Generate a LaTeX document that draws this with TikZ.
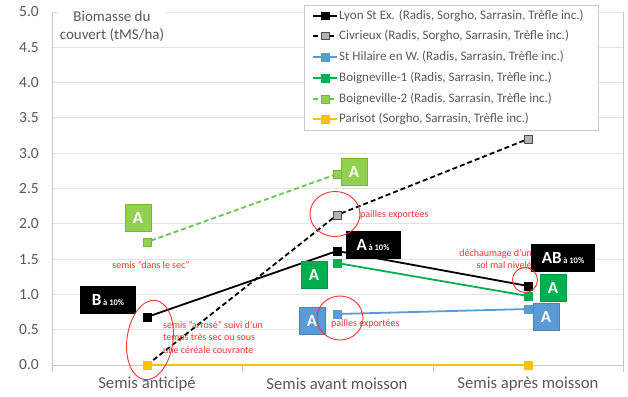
\documentclass[tikz,border=0pt]{standalone}
\usepackage{fontspec}
\setmainfont{Carlito}
\usetikzlibrary{shapes.geometric}
\definecolor{cblue}{HTML}{5B9BD5}
\definecolor{cgreen}{HTML}{00B050}
\definecolor{clight}{HTML}{92D050}
\definecolor{cyellow}{HTML}{FFC000}
\definecolor{cgrid}{HTML}{E3E3E3}
\definecolor{ctext}{HTML}{595959}
\definecolor{cred}{HTML}{F43434}
\tikzset{
  gridline/.style={draw=cgrid, line width=0.9pt},
  axline/.style={draw=gray!45, line width=0.9pt},
  ylab/.style={anchor=east, text=ctext, font=\fontsize{15.5}{15.5}\selectfont, inner sep=0},
  xlab/.style={text=ctext, font=\fontsize{16.7}{16.7}\selectfont, inner sep=0},
  mk/.style={rectangle, minimum size=7.5pt, inner sep=0, line width=0.5pt},
  mblack/.style={mk, fill=black, draw=black},
  mgray/.style={mk, fill=gray!60, draw=black!70},
  mblue/.style={mk, fill=cblue, draw=cblue},
  mgreen/.style={mk, fill=cgreen, draw=cgreen},
  mlight/.style={mk, fill=clight, draw=clight!85!black},
  myellow/.style={mk, fill=cyellow, draw=cyellow},
  sline/.style={line width=1.8pt},
  dline/.style={line width=1.8pt, dash pattern=on 5pt off 3pt},
  letterbox/.style={rectangle, minimum width=26pt, minimum height=27pt, inner sep=0, text=white, font=\bfseries\fontsize{17}{17}\selectfont, line width=0.6pt},
  blackbox/.style={rectangle, fill=black, draw=black, minimum height=27pt, inner sep=0, text=white, font=\bfseries},
  redtxt/.style={text=cred, font=\fontsize{10}{12.5}\selectfont, inner sep=0},
  redell/.style={ellipse, draw=cred, line width=0.9pt, inner sep=0},
  legtxt/.style={anchor=west, text=ctext, font=\fontsize{13}{13}\selectfont, inner sep=0},
}
\newcommand{\biglet}[1]{{\fontsize{17}{17}\selectfont #1}}
\newcommand{\smalltag}{{\fontsize{8.5}{8.5}\selectfont à 10\%}}
\begin{document}
\begin{tikzpicture}[x=1pt, y=-1pt]
\useasboundingbox (0,0) rectangle (628,396);
\fill[white] (0,0) rectangle (628,396);
% grid
\foreach \v in {0.5,1,...,5} {
  \draw[gridline] (52,{365-70.6*\v}) -- (623,{365-70.6*\v});
}
\draw[axline] (52,12) -- (52,365);
\draw[axline] (623,12) -- (623,365);
\draw[axline] (52,365) -- (623,365);
\foreach \x in {52,242,433,623} { \draw[axline] (\x,365) -- (\x,372); }
% y labels
\foreach \v/\t in {0/0.0,0.5/0.5,1/1.0,1.5/1.5,2/2.0,2.5/2.5,3/3.0,3.5/3.5,4/4.0,4.5/4.5,5/5.0} {
  \node[ylab] at (39,{365-70.6*\v}) {\t};
}
% x labels
\node[xlab] (xa) at (147,384) {Semis anticipé};
\node[xlab] (xb) at (337,384) {Semis avant moisson};
\node[xlab] (xc) at (528,384) {Semis après moisson};
% axis title
\node[fill=white, text=ctext, align=center, font=\fontsize{15}{18}\selectfont, inner sep=2pt] (title) at (112,26) {Biomasse du\\couvert (tMS/ha)};

% data markers
\node[myellow] (p1) at (147,365) {};
\coordinate (pmid) at (337,365);
\node[myellow] (p3) at (528,365) {};
\coordinate (c1) at (147,365);
\node[mgray] (c2) at (337,215) {};
\node[mgray] (c3) at (528,139) {};
\node[mblack] (l1) at (147,317) {};
\node[mblack] (l2) at (337,251) {};
\node[mblack] (l3) at (528,286) {};
\node[mblue] (h2) at (337,314) {};
\node[mblue] (h3) at (528,309) {};
\node[mgreen] (g2) at (337,263) {};
\node[mgreen] (g3) at (528,296) {};
\node[mlight] (k1) at (147,242) {};
\node[mlight] (k2) at (337,174) {};
% lines
\draw[sline, cyellow] (p1) -- (pmid) -- (p3);
\draw[dline, black] (c1) -- (c2) -- (c3);
\draw[sline, black] (l1) -- (l2) -- (l3);
\draw[sline, cblue] (h2) -- (h3);
\draw[sline, cgreen] (g2) -- (g3);
\draw[dline, clight!70!cgreen] (k1) -- (k2);
% redraw markers on top
\node[myellow] at (147,365) {};
\node[myellow] at (528,365) {};
\node[mgray] at (337,215) {};
\node[mgray] at (528,139) {};
\node[mblack] at (147,317) {};
\node[mblack] at (337,251) {};
\node[mblack] at (528,286) {};
\node[mblue] at (337,314) {};
\node[mblue] at (528,309) {};
\node[mgreen] at (337,263) {};
\node[mgreen] at (528,296) {};
\node[mlight] at (147,242) {};
\node[mlight] at (337,174) {};

% letter boxes
\node[letterbox, fill=clight, draw=clight!85!black] (bA1) at (138,218) {A};
\node[letterbox, fill=clight, draw=clight!85!black] (bA2) at (354,172) {A};
\node[letterbox, fill=cgreen, draw=cgreen!85!black] (bG2) at (314,275) {A};
\node[letterbox, fill=cgreen, draw=cgreen!85!black] (bG3) at (553,288) {A};
\node[letterbox, fill=cblue, draw=cblue!85!black] (bH2) at (312,321) {A};
\node[letterbox, fill=cblue, draw=cblue!85!black] (bH3) at (546,317) {A};
\node[blackbox, minimum width=55pt] (bB) at (108,300) {\biglet{B}\,\smalltag};
\node[blackbox, minimum width=54pt] (bLA) at (373,245) {\biglet{A}\,\smalltag};
\node[blackbox, minimum width=63pt] (bAB) at (563,258) {\biglet{AB}\,\smalltag};

% red annotations
\node[redell, minimum width=46pt, minimum height=80pt, rotate=-8] (e1) at (150,340) {};
\node[redell, minimum width=50pt, minimum height=45pt] (e2) at (335,214) {};
\node[redell, minimum width=46pt, minimum height=44pt] (e3) at (340,318) {};
\node[redell, minimum width=25pt, minimum height=25pt] (e4) at (525,280) {};
\node[redtxt] (t1) at (151,265) {semis "dans le sec"};
\node[redtxt, anchor=north west, align=left] (t2) at (163,321) {semis "arrosé" suivi d'un\\temps très sec ou sous\\une céréale couvrante};
\node[redtxt, anchor=west] (t3) at (360,215) {pailles exportées};
\node[redtxt, anchor=west] (t4) at (331,324) {pailles exportées};
\node[redtxt, anchor=east, align=right] (t5) at (532,259) {déchaumage d'un\\sol mal nivelé};

% legend
\draw[fill=white, draw=gray!40, line width=0.8pt] (304,5) rectangle (598,130);
\foreach \yy/\st/\ms/\col/\t in {
  16/sline/mblack/black/{Lyon St Ex. (Radis, Sorgho, Sarrasin, Trèfle inc.)},
  36/dline/mgray/black/{Civrieux (Radis, Sorgho, Sarrasin, Trèfle inc.)},
  57/sline/mblue/cblue/{St Hilaire en W. (Radis, Sarrasin, Trèfle inc.)},
  78/sline/mgreen/cgreen/{Boigneville-1 (Radis, Sarrasin, Trèfle inc.)},
  99/dline/mlight/clight!70!cgreen/{Boigneville-2 (Radis, Sarrasin, Trèfle inc.)},
  119/sline/myellow/cyellow/{Parisot (Sorgho, Sarrasin, Trèfle inc.)}} {
  \draw[\st, draw=\col] (313,\yy) -- (337,\yy);
  \node[\ms] at (325,\yy) {};
  \node[legtxt] at (339,\yy) {\t};
}
\end{tikzpicture}
\end{document}
